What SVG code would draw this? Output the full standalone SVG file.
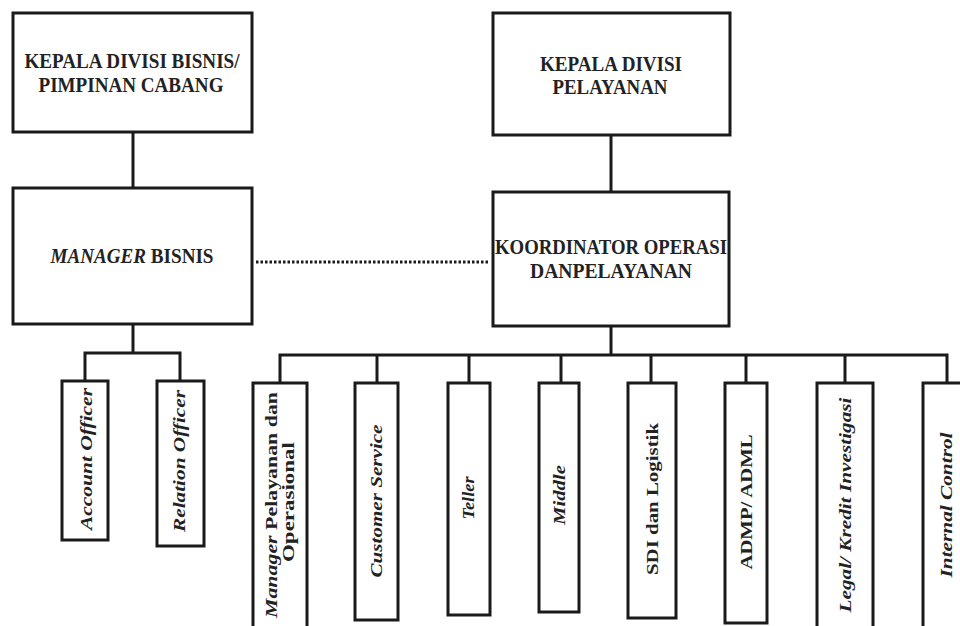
<svg xmlns="http://www.w3.org/2000/svg" width="960" height="626" viewBox="0 0 960 626">
<style>
.box{fill:#fff;stroke:#1a1a1a;stroke-width:3}
.ln{fill:none;stroke:#1a1a1a;stroke-width:3}
.dot{fill:none;stroke:#1a1a1a;stroke-width:3;stroke-dasharray:2.5 2}
.t{font-family:"Liberation Serif","Times New Roman",serif;font-weight:bold;fill:#222;font-size:17px;text-anchor:middle}
.h{font-size:20px}
.i{font-style:italic}
</style>
<rect width="960" height="626" fill="#fff"/>
<g id="connectors">
<line class="ln" x1="133" y1="132" x2="133" y2="188"/>
<line class="ln" x1="611" y1="135" x2="611" y2="192"/>
<line class="dot" x1="256" y1="262" x2="490" y2="262"/>
<line class="ln" x1="133" y1="324" x2="133" y2="353"/>
<polyline class="ln" points="85,381 85,353 180,353 180,381"/>
<line class="ln" x1="611" y1="326" x2="611" y2="355"/>
<polyline class="ln" points="280,383 280,355 947,355 947,383"/>
<line class="ln" x1="377" y1="355" x2="377" y2="383"/>
<line class="ln" x1="469" y1="355" x2="469" y2="383"/>
<line class="ln" x1="561" y1="355" x2="561" y2="383"/>
<line class="ln" x1="651" y1="355" x2="651" y2="383"/>
<line class="ln" x1="746" y1="355" x2="746" y2="383"/>
<line class="ln" x1="845" y1="355" x2="845" y2="383"/>
</g>
<g id="kepala-bisnis">
<rect class="box" x="13" y="13" width="239" height="119"/>
<text class="t h" x="132" y="68" textLength="215" lengthAdjust="spacingAndGlyphs">KEPALA DIVISI BISNIS/</text>
<text class="t h" x="131" y="92" textLength="185" lengthAdjust="spacingAndGlyphs">PIMPINAN CABANG</text>
</g>
<g id="kepala-pelayanan">
<rect class="box" x="493" y="13" width="237" height="122"/>
<text class="t h" x="611" y="71" textLength="142" lengthAdjust="spacingAndGlyphs">KEPALA DIVISI</text>
<text class="t h" x="610" y="94" textLength="115" lengthAdjust="spacingAndGlyphs">PELAYANAN</text>
</g>
<g id="manager-bisnis">
<rect class="box" x="13" y="188" width="239" height="136"/>
<text class="t h" x="132" y="263" textLength="163" lengthAdjust="spacingAndGlyphs"><tspan class="i">MANAGER</tspan> BISNIS</text>
</g>
<g id="koordinator">
<rect class="box" x="493" y="192" width="236" height="134"/>
<text class="t h" x="611" y="254" textLength="232" lengthAdjust="spacingAndGlyphs">KOORDINATOR OPERASI</text>
<text class="t h" x="611" y="278" textLength="162" lengthAdjust="spacingAndGlyphs">DANPELAYANAN</text>
</g>
<g id="account-officer">
<rect class="box" x="62" y="381" width="46" height="159"/>
<text class="t i" transform="translate(92 459) rotate(-90)" textLength="142" lengthAdjust="spacingAndGlyphs">Account Officer</text>
</g>
<g id="relation-officer">
<rect class="box" x="157" y="381" width="47" height="165"/>
<text class="t i" transform="translate(185 461) rotate(-90)" textLength="142" lengthAdjust="spacingAndGlyphs">Relation Officer</text>
</g>
<g id="manager-pelayanan">
<rect class="box" x="253" y="383" width="54" height="260"/>
<text class="t" transform="translate(277 505) rotate(-90)" textLength="226" lengthAdjust="spacingAndGlyphs"><tspan class="i">Manager</tspan> Pelayanan dan</text>
<text class="t" transform="translate(294 502) rotate(-90)" textLength="120" lengthAdjust="spacingAndGlyphs">Operasional</text>
</g>
<g id="customer-service">
<rect class="box" x="355" y="383" width="43" height="237"/>
<text class="t i" transform="translate(382 501) rotate(-90)" textLength="153" lengthAdjust="spacingAndGlyphs">Customer Service</text>
</g>
<g id="teller">
<rect class="box" x="448" y="383" width="42" height="232"/>
<text class="t i" transform="translate(474 498) rotate(-90)" textLength="43" lengthAdjust="spacingAndGlyphs">Teller</text>
</g>
<g id="middle">
<rect class="box" x="539" y="383" width="40" height="229"/>
<text class="t i" transform="translate(565 495) rotate(-90)" textLength="60" lengthAdjust="spacingAndGlyphs">Middle</text>
</g>
<g id="sdi-logistik">
<rect class="box" x="628" y="383" width="48" height="235"/>
<text class="t" transform="translate(658 499) rotate(-90)" textLength="152" lengthAdjust="spacingAndGlyphs">SDI dan Logistik</text>
</g>
<g id="admp-adml">
<rect class="box" x="725" y="383" width="42" height="240"/>
<text class="t" transform="translate(752 502) rotate(-90)" textLength="135" lengthAdjust="spacingAndGlyphs">ADMP/ ADML</text>
</g>
<g id="legal-kredit">
<rect class="box" x="817" y="383" width="56" height="260"/>
<text class="t i" transform="translate(851 505) rotate(-90)" textLength="215" lengthAdjust="spacingAndGlyphs">Legal/ Kredit Investigasi</text>
</g>
<g id="internal-control">
<rect class="box" x="923" y="383" width="45" height="260"/>
<text class="t i" transform="translate(952 505) rotate(-90)" textLength="145" lengthAdjust="spacingAndGlyphs">Internal Control</text>
</g>
</svg>
